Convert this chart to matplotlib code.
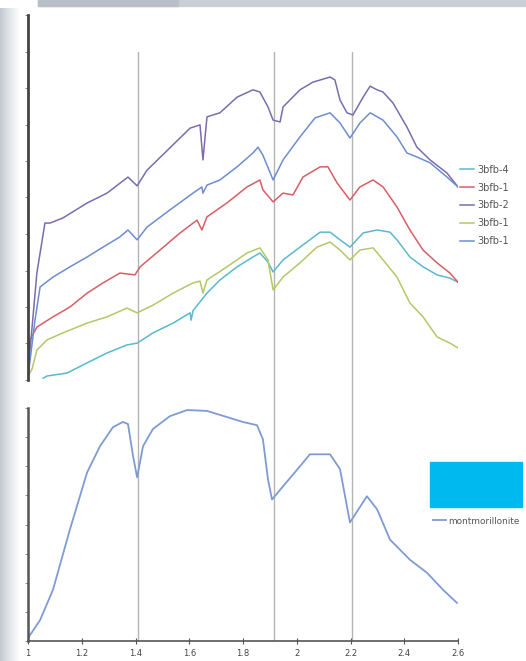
import numpy as np
import matplotlib
matplotlib.use("Agg")
import matplotlib.pyplot as plt
from matplotlib.patches import Rectangle

W, H = 526, 661

# ---- spectra (wavelength in um, relative reflectance) ----
wl_4 = [1.056, 1.071, 1.145, 1.220, 1.294, 1.368, 1.406, 1.465, 1.540, 1.603, 1.607, 1.614,
        1.666, 1.714, 1.778, 1.837, 1.863, 1.893, 1.912, 1.949, 2.012, 2.087, 2.124, 2.161,
        2.198, 2.247, 2.299, 2.347, 2.373, 2.421, 2.470, 2.522, 2.570, 2.600]
r_4 = [0.05, 0.11, 0.19, 0.47, 0.74, 0.96, 1.01, 1.29, 1.56, 1.84, 1.64, 1.90,
       2.38, 2.74, 3.10, 3.37, 3.48, 3.23, 2.96, 3.29, 3.64, 4.05, 4.05, 3.84,
       3.64, 4.03, 4.11, 4.05, 3.84, 3.37, 3.10, 2.88, 2.79, 2.68]

wl_1a = [1.000, 1.007, 1.033, 1.093, 1.156, 1.220, 1.279, 1.342, 1.398, 1.417, 1.491, 1.566,
         1.629, 1.647, 1.666, 1.740, 1.815, 1.863, 1.874, 1.912, 1.949, 1.986, 2.023, 2.087,
         2.116, 2.150, 2.198, 2.235, 2.284, 2.321, 2.373, 2.421, 2.470, 2.522, 2.570, 2.600]
r_1a = [0.10, 1.10, 1.45, 1.73, 2.00, 2.38, 2.66, 2.93, 2.88, 3.10, 3.56, 4.03,
        4.38, 4.11, 4.47, 4.85, 5.29, 5.48, 5.21, 4.88, 5.12, 5.07, 5.56, 5.84,
        5.84, 5.40, 4.93, 5.29, 5.48, 5.29, 4.74, 4.11, 3.56, 3.21, 2.93, 2.68]

wl_2 = [1.000, 1.005, 1.033, 1.063, 1.082, 1.130, 1.220, 1.294, 1.372, 1.406, 1.443, 1.528,
        1.603, 1.640, 1.651, 1.666, 1.714, 1.778, 1.837, 1.863, 1.893, 1.912, 1.938, 1.949,
        2.012, 2.060, 2.124, 2.142, 2.161, 2.187, 2.209, 2.247, 2.273, 2.299, 2.321, 2.358,
        2.410, 2.447, 2.496, 2.559, 2.600]
r_2 = [0.10, 0.60, 2.93, 4.30, 4.30, 4.44, 4.85, 5.12, 5.56, 5.32, 5.75, 6.36,
       6.90, 6.99, 6.03, 7.21, 7.32, 7.75, 7.95, 7.89, 7.48, 7.12, 7.07, 7.48,
       7.95, 8.16, 8.30, 8.22, 7.67, 7.32, 7.26, 7.75, 8.05, 7.95, 7.89, 7.59,
       6.93, 6.38, 6.03, 5.67, 5.29]

wl_1b = [1.000, 1.015, 1.033, 1.071, 1.130, 1.220, 1.294, 1.368, 1.406, 1.465, 1.540, 1.614,
         1.640, 1.651, 1.666, 1.740, 1.815, 1.863, 1.893, 1.912, 1.949, 2.012, 2.075, 2.124,
         2.161, 2.198, 2.235, 2.284, 2.321, 2.373, 2.421, 2.470, 2.522, 2.570, 2.600]
r_1b = [0.10, 0.30, 0.82, 1.10, 1.29, 1.56, 1.73, 1.97, 1.84, 2.05, 2.38, 2.66,
        2.71, 2.38, 2.74, 3.10, 3.48, 3.62, 3.29, 2.47, 2.82, 3.21, 3.64, 3.78,
        3.56, 3.29, 3.56, 3.62, 3.29, 2.82, 2.11, 1.73, 1.18, 1.01, 0.88]

wl_1c = [1.000, 1.007, 1.026, 1.045, 1.093, 1.156, 1.220, 1.279, 1.342, 1.372, 1.406, 1.443,
         1.528, 1.614, 1.647, 1.651, 1.666, 1.714, 1.778, 1.837, 1.856, 1.874, 1.912, 1.949,
         2.012, 2.068, 2.124, 2.161, 2.198, 2.235, 2.273, 2.321, 2.373, 2.410, 2.447, 2.496,
         2.559, 2.600]
r_1c = [0.10, 0.50, 1.64, 2.55, 2.82, 3.10, 3.37, 3.64, 3.92, 4.11, 3.84, 4.19,
        4.66, 5.12, 5.29, 5.12, 5.34, 5.48, 5.84, 6.22, 6.38, 6.16, 5.48, 6.03,
        6.66, 7.18, 7.32, 7.04, 6.63, 7.04, 7.32, 7.12, 6.66, 6.22, 6.11, 5.95,
        5.56, 5.29]

wl_mont = [1.000, 1.045, 1.093, 1.156, 1.220, 1.268, 1.316, 1.353, 1.372, 1.391, 1.406, 1.428,
           1.465, 1.528, 1.592, 1.666, 1.740, 1.800, 1.852, 1.874, 1.893, 1.908, 1.949, 2.012,
           2.049, 2.124, 2.161, 2.198, 2.261, 2.299, 2.347, 2.421, 2.485, 2.544, 2.596]
r_mont = [0.10, 0.72, 1.76, 3.83, 5.79, 6.69, 7.34, 7.52, 7.45, 6.34, 5.62, 6.69,
          7.28, 7.72, 7.93, 7.90, 7.69, 7.52, 7.41, 6.93, 5.55, 4.86, 5.31, 6.00,
          6.41, 6.41, 5.90, 4.07, 4.97, 4.52, 3.48, 2.79, 2.34, 1.76, 1.31]

top_series = [
    ("3bfb-4", wl_4, r_4, "#5bb8cf"),
    ("3bfb-1", wl_1a, r_1a, "#d65f66"),
    ("3bfb-2", wl_2, r_2, "#7b6cae"),
    ("3bfb-1", wl_1b, r_1b, "#b3c866"),
    ("3bfb-1", wl_1c, r_1c, "#6d8dd0"),
]
feature_wl = [1.41, 1.915, 2.205]
x_ticks = [1, 1.2, 1.4, 1.6, 1.8, 2, 2.2, 2.4, 2.6]


def fx(px):
    return px / W


def fy(py):
    return 1 - py / H


fig = plt.figure(figsize=(W / 100, H / 100), dpi=100)
fig.patch.set_facecolor("white")

# slide background bits
grad = np.linspace(0, 1, 50).reshape(1, -1)
bg = fig.add_axes([0, 0, fx(20), fy(8)])
bg.imshow(grad, aspect="auto", cmap=matplotlib.colors.LinearSegmentedColormap.from_list(
    "g", ["#c3c8d0", "#e4e7ec", "#ffffff"]), extent=[0, 1, 0, 1])
bg.axis("off")
fig.patches.append(Rectangle((fx(38), fy(6)), fx(488), 6 / H, transform=fig.transFigure,
                             color="#c9ced7", zorder=0))
fig.patches.append(Rectangle((fx(38), fy(6)), fx(140), 6 / H, transform=fig.transFigure,
                             color="#b9bfc9", zorder=0))

x0, x1 = fx(28), fx(458)
ax1 = fig.add_axes([x0, fy(380), x1 - x0, (380 - 15) / H])
ax2 = fig.add_axes([x0, fy(641), x1 - x0, (641 - 408) / H])

for lbl, wl, r, c in top_series:
    ax1.plot(wl, r, color=c, lw=1.1, label=lbl)
ax1.set_xlim(1, 2.6)
ax1.set_ylim(0, 10)
ax1.set_yticks(range(0, 11))
ax1.set_yticklabels([])
ax1.set_xticks([])
for s in ["top", "right", "bottom"]:
    ax1.spines[s].set_visible(False)
ax1.spines["left"].set_color("#444444")
ax1.spines["left"].set_linewidth(2.0)
ax1.tick_params(axis="y", direction="out", length=2, width=0.6, color="#777777")
ax1.patch.set_alpha(0)
ax1.legend(loc="upper left", bbox_to_anchor=(fx(456), fy(161)), bbox_transform=fig.transFigure,
           frameon=False, fontsize=7, handlelength=1.5, handletextpad=0.25,
           labelspacing=0.8, labelcolor="#555555", borderaxespad=0)

ax2.plot(wl_mont, r_mont, color="#7f9bd3", lw=1.3, label="montmorillonite")
ax2.set_xlim(1, 2.6)
ax2.set_ylim(0, 8)
ax2.set_yticks(range(0, 9))
ax2.set_yticklabels([])
ax2.set_xticks(x_ticks)
ax2.set_xticklabels([f"{t:g}" for t in x_ticks])
for s in ["top", "right"]:
    ax2.spines[s].set_visible(False)
for s in ["left", "bottom"]:
    ax2.spines[s].set_color("#555555")
ax2.spines["left"].set_linewidth(1.8)
ax2.spines["bottom"].set_linewidth(1.2)
ax2.tick_params(axis="y", direction="out", length=2, width=0.6, color="#777777")
ax2.tick_params(axis="x", direction="inout", length=4, width=0.8, color="#555555",
                labelsize=6, labelcolor="#444444", pad=4)
ax2.patch.set_alpha(0)
ax2.legend(loc="upper left", bbox_to_anchor=(fx(429), fy(513)), bbox_transform=fig.transFigure,
           frameon=False, fontsize=6.4, handlelength=1.5, handletextpad=0.25,
           labelcolor="#555555", borderaxespad=0)

# absorption feature guide lines through both panels
ov = fig.add_axes([x0, fy(641), x1 - x0, (641 - 52) / H])
ov.set_xlim(1, 2.6)
ov.set_ylim(0, 1)
for w in feature_wl:
    ov.axvline(w, color="#b4b4b4", lw=1.0)
ov.axis("off")
ov.patch.set_alpha(0)
ov.set_zorder(0)
ax1.set_zorder(1)
ax2.set_zorder(1)

fig.patches.append(Rectangle((fx(430), fy(507)), fx(92), 45 / H, transform=fig.transFigure,
                             color="#00b9ef", zorder=5))

fig.savefig("out.png", dpi=100)
